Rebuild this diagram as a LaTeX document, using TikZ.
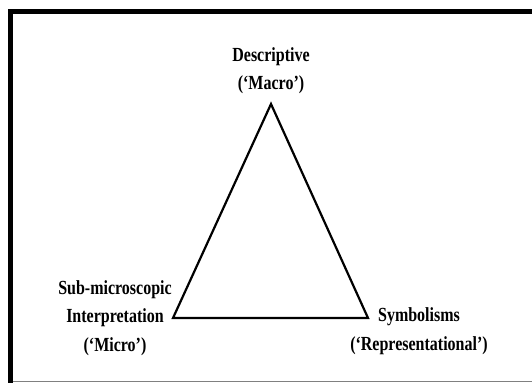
\documentclass[tikz,border=0pt]{standalone}
\usepackage{fontspec}
\setmainfont{Liberation Serif}[FakeStretch=0.8]

\begin{document}
\begin{tikzpicture}[x=1pt, y=-1pt,
		level text/.style={font=\fontsize{20}{28.5}\selectfont\bfseries, align=center, inner sep=0pt},
		frame/.style={line width=5pt},
		triangle edge/.style={line width=2.2pt, line join=miter}]
	\useasboundingbox (0,0) rectangle (532,383);
	% frame round the figure
	\draw[frame] (532,11.5) -| (10.5,383);
	\draw[gray, line width=1.5pt] (13,381.5) -- (532,381.5);
	% corners of the triangle
	\coordinate (macro) at (271,104);
	\coordinate (micro) at (173,318);
	\coordinate (symbolic) at (368,318);
	\draw[triangle edge] (macro) -- (micro) -- (symbolic) -- cycle;
	% labels
	\node[level text] (macrotext) at (271,70.5) {Descriptive\\(`Macro')};
	\node[level text] (microtext) at (115,318) {Sub-microscopic\\Interpretation\\(`Micro')};
	\node[level text] (symbolictext) at (419,331) {Symbolisms\\(`Representational')};
\end{tikzpicture}
\end{document}
